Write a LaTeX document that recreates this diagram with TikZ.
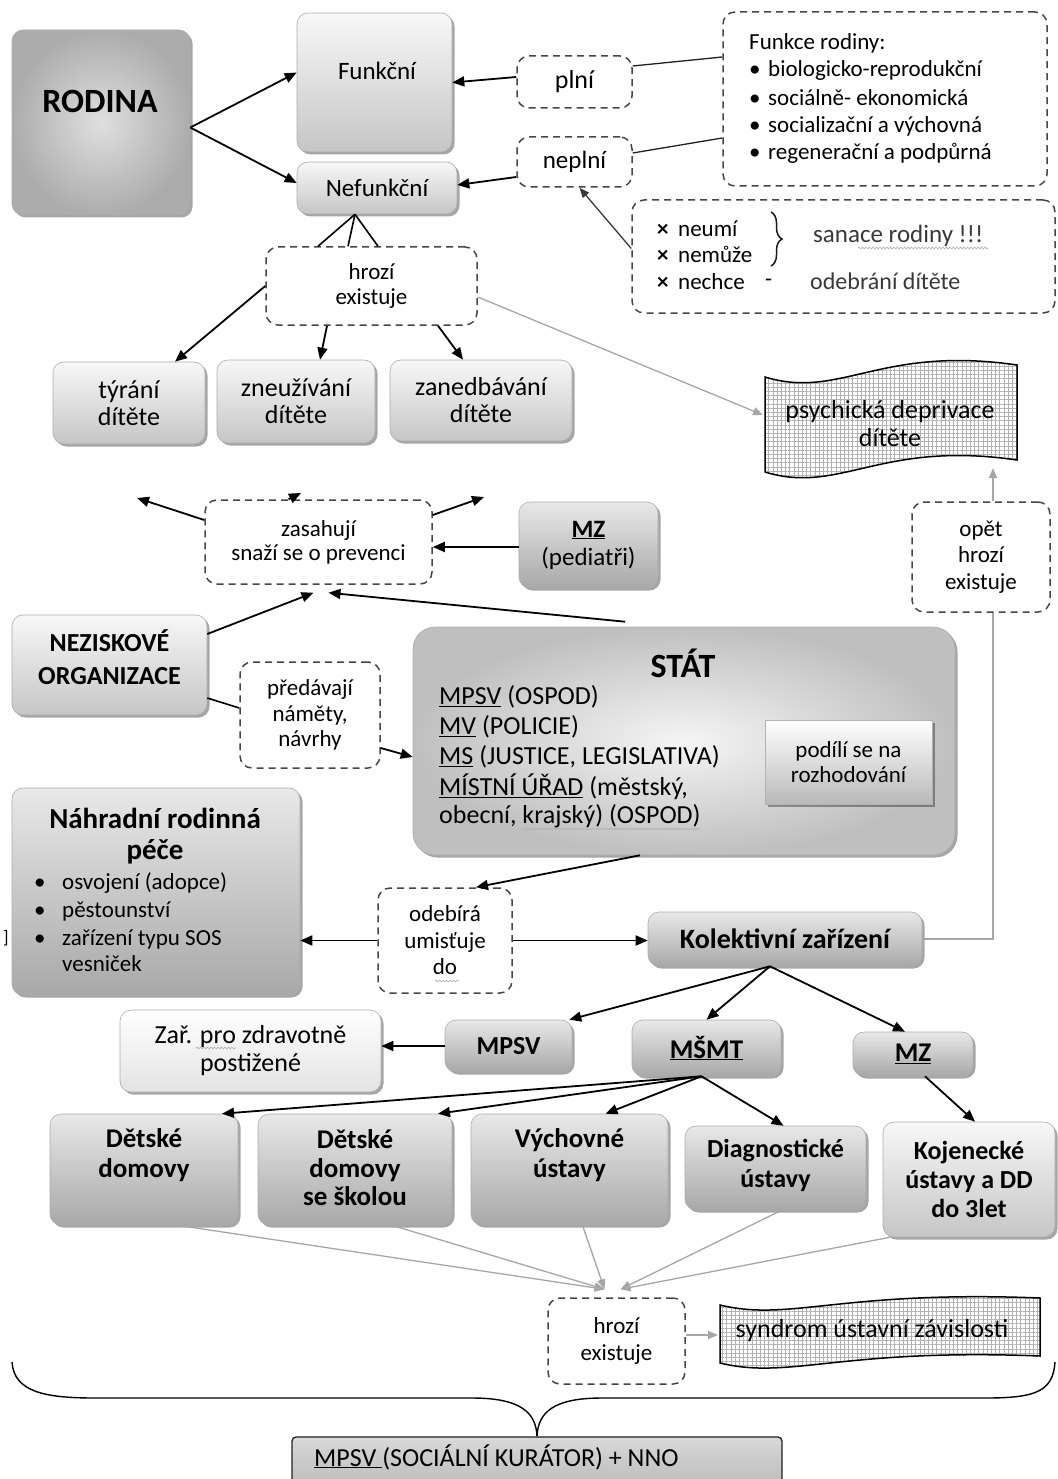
\documentclass[tikz,border=0pt]{standalone}
\usepackage{fontspec}
\setmainfont{Carlito}
\usetikzlibrary{arrows.meta,shadows,patterns.meta,decorations.pathmorphing,decorations.pathreplacing,calc}
\newcommand{\fsz}[2]{\fontsize{#1}{#2}\selectfont}
\begin{document}
\begin{tikzpicture}[x=1pt,y=-1pt,
  wh/.style 2 args={minimum width=#1pt,minimum height=#2pt},
  base/.style={draw=gray!65,line width=0.6pt,rounded corners=11pt,align=center,inner sep=0pt,
     drop shadow={shadow xshift=2.5pt,shadow yshift=-2.5pt,opacity=0.35,fill=black}},
  sbox/.style={base,top color=gray!6,bottom color=gray!45},
  sdark/.style={base,top color=gray!18,bottom color=gray!68},
  slight/.style={base,top color=white,bottom color=gray!22},
  dbox/.style={draw=gray!55!black,line width=1.5pt,dash pattern=on 7pt off 5pt,rounded corners=12pt,fill=white,align=center,inner sep=0pt},
  arr/.style={-{Triangle[length=12pt,width=10pt]},line width=1.8pt},
  garr/.style={-{Triangle[length=10pt,width=8pt]},line width=1.3pt,color=gray!70},
  ln/.style={line width=1.6pt},
  thin/.style={line width=1.3pt,gray!25!black},
  t/.style={align=center,inner sep=0pt},
  wavy/.style={decorate,decoration={snake,amplitude=0.9pt,segment length=3.5pt},draw=gray!60,line width=0.7pt},
  gridfill/.style={pattern={Hatch[angle=0,distance=4.2pt,line width=0.5pt]},pattern color=gray!60,draw=black,line width=1.5pt},
]
\useasboundingbox (0,0) rectangle (1057,1479);

% ---------- top ----------
\node[sbox,wh={178}{185},inner color=gray!25,outer color=gray!65] (rodina) at (101,122.5) {};
\node[t,font={\fsz{34}{38}\bfseries}] (rodinaT) at (100,101) {RODINA};
\node[sbox,wh={155}{139}] (funk) at (374.5,82.5) {};
\node[t,font={\fsz{25}{28}}] (funkT) at (377,71) {Funkční};
\node[sbox,wh={160}{52},font={\fsz{25}{28}}] (nef) at (377,188) {Nefunkční};
\node[dbox,wh={115}{52},font={\fsz{26}{28}}] (plni) at (574.5,82) {plní};
\node[dbox,wh={115}{50},font={\fsz{25}{28}}] (neplni) at (574.5,162) {neplní};

\node[dbox,wh={324}{174}] (funkce) at (885,99) {};
\begin{scope}[every node/.style={anchor=west,inner sep=0pt,font={\fsz{23}{26}}}]
\node (fr0) at (749,43) {Funkce rodiny:};
\node (fr1) at (749,70) {\makebox[19pt][l]{•}biologicko-reprodukční};
\node (fr2) at (749,98) {\makebox[19pt][l]{•}sociálně- ekonomická};
\node (fr3) at (749,126) {\makebox[19pt][l]{•}socializační a výchovná};
\node (fr4) at (749,153) {\makebox[19pt][l]{•}regenerační a podpůrná};
\end{scope}

\node[dbox,wh={423}{113}] (neumi) at (843.5,256.5) {};
\begin{scope}[every node/.style={anchor=west,inner sep=0pt,font={\fsz{23}{26}}}]
\node (nu1) at (657,229) {\makebox[21pt][l]{\textbf{×}}neumí};
\node (nu2) at (657,254) {\makebox[21pt][l]{\textbf{×}}nemůže};
\node (nu3) at (657,282) {\makebox[21pt][l]{\textbf{×}}nechce};
\node (nu4) at (765,283) {-};
\node[text=gray!45!black,font={\fsz{25}{28}}] (san) at (813,236) {sanace rodiny !!!};
\node[text=gray!45!black,font={\fsz{24}{28}}] (odb) at (810,281) {odebrání dítěte};
\end{scope}
\draw[decorate,decoration={brace,amplitude=11pt},line width=1.5pt,gray!20!black] (771,212) -- (771,266);
\draw[wavy] (858,248) -- (988,248);

\node[dbox,wh={211}{78},t,font={\fsz{23}{25}}] (hrozi) at (371.5,286) {hrozí\\existuje};
\node[sbox,wh={152}{82},t,font={\fsz{26}{27}}] (tyrani) at (129,403) {týrání\\dítěte};
\node[sbox,wh={158}{83},t,font={\fsz{26}{27}}] (zneu) at (296,401.5) {zneužívání\\dítěte};
\node[sbox,wh={182}{81},t,font={\fsz{26}{27}}] (zaned) at (481,400.5) {zanedbávání\\dítěte};

\draw[gridfill] (765,377) .. controls (840,400) and (880,345) .. (1017,365) -- (1017,460) .. controls (880,440) and (840,495) .. (765,472) -- cycle;
\node[t,font={\fsz{26}{28}}] (psyT) at (890,424) {psychická deprivace\\dítěte};
\coordinate (psyL) at (763,415);
\coordinate (psyB) at (993,468);

% ---------- middle ----------
\node[dbox,wh={227}{84},t,font={\fsz{23}{24}}] (zas) at (318.5,542) {zasahují\\snaží se o prevenci};
\node[sdark,wh={139}{86},t,font={\fsz{25}{28}}] (mzp) at (588.5,545) {\textbf{\underline{MZ}}\\(pediatři)};
\node[dbox,wh={138}{110},t,font={\fsz{23}{26.5}}] (opet) at (981,557) {opět\\hrozí\\existuje};
\node[sbox,wh={195}{100}] (nez) at (109.5,665) {};
\node[t,font={\fsz{26}{33}\bfseries}] (nezT) at (109.5,657.5) {NEZISKOVÉ\\ORGANIZACE};
\node[dbox,wh={140}{106},t,font={\fsz{23}{25.5}}] (pred) at (310,715) {předávají\\náměty,\\návrhy};

\node[sbox,wh={542}{228},rounded corners=22pt,inner color=gray!8,outer color=gray!50] (stat) at (684,741) {};
\node[t,font={\fsz{34}{38}\bfseries}] (statT) at (683,663) {STÁT};
\begin{scope}[every node/.style={anchor=west,inner sep=0pt,font={\fsz{26}{28}}}]
\node (s1) at (439,697) {\underline{MPSV} (OSPOD)};
\node (s2) at (439,727) {\underline{MV} (POLICIE)};
\node (s3) at (439,757) {\underline{MS} (JUSTICE, LEGISLATIVA)};
\node (s4) at (439,787) {\underline{MÍSTNÍ ÚŘAD} (městský,};
\node (s5) at (439,816) {obecní, krajský) (OSPOD)};
\end{scope}
\draw[wavy] (522,829) -- (700,829);
\node[draw=gray!60,line width=0.8pt,top color=white,bottom color=gray!55,wh={167}{84},t,font={\fsz{23}{25}},
      drop shadow={shadow xshift=2.5pt,shadow yshift=-2.5pt,opacity=0.35,fill=black}] (podili) at (848.5,762) {podílí se na\\rozhodování};

% ---------- lower ----------
\node[sdark,wh={288}{207}] (nahr) at (156,891.5) {};
\node[t,font={\fsz{29}{31}\bfseries}] (nahrT) at (155,836.5) {Náhradní rodinná\\péče};
\begin{scope}[every node/.style={anchor=west,inner sep=0pt,font={\fsz{23}{26}}}]
\node (n1) at (34,883) {\makebox[28pt][l]{•}osvojení (adopce)};
\node (n2) at (34,911) {\makebox[28pt][l]{•}pěstounství};
\node (n3) at (34,939) {\makebox[28pt][l]{•}zařízení typu SOS};
\node (n4) at (62,964) {vesniček};
\end{scope}
\node[inner sep=0pt,font={\fsz{18}{20}}] (brk) at (6,938) {]};

\node[dbox,wh={134}{105},t,font={\fsz{23}{26.5}}] (odeb) at (445,940.5) {odebírá\\umisťuje\\do};
\draw[wavy] (435,981) -- (459,981);
\node[sdark,wh={274}{54},font={\fsz{28}{30}\bfseries}] (kol) at (785,939) {Kolektivní zařízení};

\node[slight,wh={261}{82},t,font={\fsz{26}{28}}] (zar) at (250.5,1051) {Zař. pro zdravotně\\postižené};
\draw[wavy] (196,1048) -- (236,1048);
\node[sdark,wh={127}{52},font={\fsz{26}{28}\bfseries}] (mpsv) at (508.5,1046) {MPSV};
\node[sdark,wh={149}{56},font={\fsz{27}{28}\bfseries}] (msmt) at (706.5,1048) {\underline{MŠMT}};
\node[sdark,wh={120}{44},font={\fsz{27}{28}\bfseries}] (mz2) at (913,1054) {\underline{MZ}};

\node[sdark,wh={188}{111}] (ddom) at (144,1169.5) {};
\node[t,font={\fsz{27}{30}\bfseries}] (ddomT) at (144,1155) {Dětské\\domovy};
\node[sdark,wh={194}{111}] (dds) at (355,1169.5) {};
\node[t,font={\fsz{27}{28.5}\bfseries}] (ddsT) at (355,1168) {Dětské\\domovy\\se školou};
\node[sdark,wh={197}{111}] (vych) at (569.5,1169.5) {};
\node[t,font={\fsz{27}{30}\bfseries}] (vychT) at (569.5,1155) {Výchovné\\ústavy};
\node[sdark,wh={181}{84}] (diag) at (775.5,1168) {};
\node[t,font={\fsz{26}{30}\bfseries}] (diagT) at (775.5,1165) {Diagnostické\\ústavy};
\node[sbox,wh={172}{115}] (koj) at (969,1179.5) {};
\node[t,font={\fsz{26}{29}\bfseries}] (kojT) at (969,1179) {Kojenecké\\ústavy a DD\\do 3let};

\node[dbox,wh={137}{86},t,font={\fsz{23}{27}}] (h2) at (616.5,1341) {hrozí\\existuje};
\draw[gridfill] (720,1305) .. controls (790,1322) and (840,1290) .. (1040,1298) -- (1040,1356) .. controls (840,1348) and (790,1380) .. (720,1363) -- cycle;
\node[t,font={\fsz{26}{28}}] (synT) at (872,1331) {syndrom ústavní závislosti};
\coordinate (synL) at (718,1335);

\node[draw=gray!25!black,line width=1.3pt,rounded corners=4pt,top color=gray!30,bottom color=gray!58,wh={490}{60}] (bot) at (537,1467) {};
\node[anchor=west,inner sep=0pt,font={\fsz{26}{28}}] (botT) at (314,1457) {\underline{MPSV }(SOCIÁLNÍ KURÁTOR) + NNO};

% ---------- connectors ----------
\draw[arr] ([yshift=-5pt]rodina.east) -- ([yshift=10pt]funk.west);
\draw[arr] ([yshift=-5pt]rodina.east) -- ([yshift=5pt]nef.west);
\draw[arr] ([yshift=5pt]plni.west) -- (funk.east);
\draw[arr] ([yshift=-15pt]neplni.west) -- ([yshift=3pt]nef.east);
\draw[thin] ([yshift=42pt]funkce.west) -- ([yshift=16pt]plni.east);
\draw[thin] ([yshift=-39pt]funkce.west) -- ([yshift=9pt]neplni.east);
\draw[garr,color=gray!45!black] ([yshift=8pt]neumi.west) -- ([xshift=5pt]neplni.south);
\coordinate (apex) at ([xshift=-22pt]nef.south);
\draw[ln] (apex) -- ([xshift=-53.5pt]hrozi.north);
\draw[ln] (apex) -- ([xshift=-23.5pt]hrozi.north);
\draw[ln] (apex) -- ([xshift=6.5pt]hrozi.north);
\draw[arr] (hrozi.west) -- ([xshift=46pt]tyrani.north);
\draw[arr] ([xshift=-44.5pt]hrozi.south) -- ([xshift=24pt]zneu.north);
\draw[arr] ([xshift=66.5pt]hrozi.south) -- ([xshift=-18pt]zaned.north);
\draw[garr] ([yshift=-11pt]hrozi.east) -- (psyL);

\draw[garr] ([xshift=12pt]opet.north) -- (psyB);
\draw[line width=1.3pt,gray!70] (kol.east) -| ([xshift=12pt]opet.south);

\coordinate (zL) at (137,498);
\coordinate (zT) at (301,493);
\coordinate (zR) at (484,497);
\draw[arr] ([yshift=22pt]zas.west) -- (zL);
\draw[arr] ([xshift=-30pt]zas.north) -- (zT);
\draw[arr] ([yshift=27pt]zas.east) -- (zR);
\draw[arr] ([yshift=-2pt]mzp.west) -- ([yshift=-5pt]zas.east);
\draw[arr] ([yshift=31pt]nez.east) -- ([xshift=-5pt,yshift=-8pt]zas.south);
\draw[arr] ([xshift=-59pt,yshift=5pt]stat.north) -- ([xshift=10pt,yshift=-8pt]zas.south);
\draw[ln] ([yshift=-33pt]nez.east) -- ([yshift=7pt]pred.west);
\draw[arr] ([yshift=-33pt]pred.east) -- ([yshift=-16pt]stat.west);
\draw[arr] ([xshift=-44pt]stat.south) -- ([xshift=31pt]odeb.north);
\draw[arr] (odeb.west) -- (odeb.west -| nahr.east);
\draw[arr] (odeb.east) -- (odeb.east -| kol.west);

\draw[arr] ([xshift=-15pt]kol.south) -- ([xshift=-3pt]mpsv.north east);
\draw[arr] ([xshift=-15pt]kol.south) -- (msmt.north);
\draw[arr] ([xshift=-15pt]kol.south) -- ([xshift=-8pt]mz2.north);
\draw[arr] (mpsv.west) -- (mpsv.west -| zar.east);
\draw[arr] ([xshift=-5pt]msmt.south) -- ([xshift=78pt]ddom.north);
\draw[arr] ([xshift=-5pt]msmt.south) -- ([xshift=83pt]dds.north);
\draw[arr] ([xshift=-5pt]msmt.south) -- ([xshift=36pt]vych.north);
\draw[arr] ([xshift=-5pt]msmt.south) -- ([xshift=8pt]diag.north);
\draw[arr] ([xshift=12pt]mz2.south) -- ([xshift=6pt]koj.north);

\coordinate (h2a) at ([xshift=-12pt,yshift=8pt]h2.north);
\coordinate (h2b) at ([xshift=4pt,yshift=8pt]h2.north);
\draw[garr] ([xshift=34pt]ddom.south) -- (h2a);
\draw[garr] ([xshift=37pt]dds.south) -- (h2a);
\draw[garr] ([xshift=13pt]vych.south) -- (h2a);
\draw[garr] ([xshift=6pt]diag.south) -- (h2b);
\draw[garr] ([xshift=7pt]koj.south west) -- (h2b);
\draw[garr] ([yshift=6pt]h2.east) -- (synL);

\coordinate (brL) at (12,1362);
\coordinate (brR) at (1055,1362);
\draw[line width=1.4pt] (brL) .. controls (14,1392) and (45,1398) .. (95,1398) -- (472,1398)
  .. controls (520,1398) and (536,1412) .. (bot.north)
  .. controls (538,1412) and (554,1398) .. (602,1398) -- (985,1398)
  .. controls (1035,1398) and (1053,1392) .. (brR);
\end{tikzpicture}
\end{document}
